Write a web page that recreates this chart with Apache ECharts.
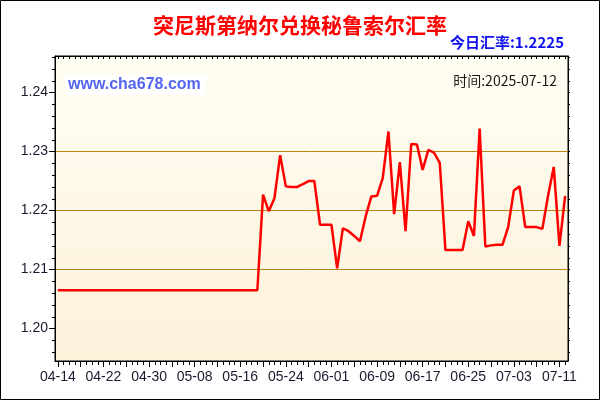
<!DOCTYPE html>
<html>
<head>
<meta charset="utf-8">
<script src="https://cdn.jsdelivr.net/npm/echarts@6/dist/echarts.min.js"></script>
<style>
html,body{margin:0;padding:0;background:#fff;}
#chart{width:600px;height:400px;}
</style>
</head>
<body>
<div id="chart"></div>
<script>
var dates = [
'04-14','04-15','04-16','04-17','04-18','04-19','04-20','04-21','04-22','04-23','04-24','04-25','04-26','04-27','04-28','04-29','04-30',
'05-01','05-02','05-03','05-04','05-05','05-06','05-07','05-08','05-09','05-10','05-11','05-12','05-13','05-14','05-15','05-16','05-17','05-18','05-19','05-20','05-21','05-22','05-23','05-24','05-25','05-26','05-27','05-28','05-29','05-30','05-31',
'06-01','06-02','06-03','06-04','06-05','06-06','06-07','06-08','06-09','06-10','06-11','06-12','06-13','06-14','06-15','06-16','06-17','06-18','06-19','06-20','06-21','06-22','06-23','06-24','06-25','06-26','06-27','06-28','06-29','06-30',
'07-01','07-02','07-03','07-04','07-05','07-06','07-07','07-08','07-09','07-10','07-11','07-12'
];
var rates = [
1.2065,1.2065,1.2065,1.2065,1.2065,1.2065,1.2065,1.2065,1.2065,1.2065,
1.2065,1.2065,1.2065,1.2065,1.2065,1.2065,1.2065,1.2065,1.2065,1.2065,
1.2065,1.2065,1.2065,1.2065,1.2065,1.2065,1.2065,1.2065,1.2065,1.2065,
1.2065,1.2065,1.2065,1.2065,1.2065,1.2065,
1.2227,1.2199,1.2221,1.2294,1.2241,1.2240,1.2240,1.2245,1.2250,1.2250,
1.2176,1.2176,1.2176,1.2102,1.2170,1.2165,1.2157,1.2148,1.2190,1.2224,
1.2225,1.2255,1.2334,1.2194,1.2282,1.2165,1.2313,1.2312,1.2269,1.2303,
1.2298,1.2281,1.2133,1.2133,1.2133,1.2133,1.2182,1.2157,1.2339,1.2139,
1.2141,1.2142,1.2142,1.2172,1.2234,1.2241,1.2172,1.2172,1.2172,1.2169,
1.2225,1.2274,1.2140,1.2225
];
var yLabels = [1.20, 1.21, 1.22, 1.23, 1.24];
var yMinorTicks = [1.196,1.198,1.200,1.202,1.204,1.206,1.208,1.210,1.212,1.214,1.216,1.218,1.220,
                   1.222,1.224,1.226,1.228,1.230,1.232,1.234,1.236,1.238,1.240,1.242,1.244,1.246];
var titleText = '突尼斯第纳尔兑换秘鲁索尔汇率';
var todayText = '今日汇率:1.2225';
var timeText = '时间:2025-07-12';
var siteText = 'www.cha678.com';

var yMin = 1.1945, yMax = 1.2462;
var chart = echarts.init(document.getElementById('chart'), null, {renderer: 'canvas'});
var black = '#000';
var labelFont = {color: '#1a1a2e', fontSize: 14, fontFamily: 'Liberation Sans, Arial, sans-serif'};

chart.setOption({
  animation: false,
  backgroundColor: '#fff',
  title: {
    text: titleText, left: 'center', top: 10,
    textStyle: {color: '#ff0000', fontSize: 21, fontWeight: 'bold', fontFamily: 'Noto Sans CJK SC'}
  },
  grid: {
    left: 55, right: 32, top: 56, bottom: 39,
    show: true, borderColor: black, borderWidth: 1,
    backgroundColor: {type: 'linear', x: 0, y: 0, x2: 0, y2: 1,
      colorStops: [{offset: 0, color: '#fffef3'}, {offset: 1, color: '#fdf1da'}]}
  },
  xAxis: [
    {type: 'category', data: dates, position: 'bottom', boundaryGap: true,
     axisLine: {show: true, lineStyle: {color: black, width: 1}},
     axisTick: {show: true, alignWithLabel: true, interval: 0, length: 4, lineStyle: {color: black}},
     axisLabel: Object.assign({interval: 7, margin: 9}, labelFont),
     splitLine: {show: false}},
    {type: 'category', data: dates, position: 'bottom', boundaryGap: true,
     axisLine: {show: false},
     axisTick: {show: true, alignWithLabel: true, interval: 3, length: 6, lineStyle: {color: black}},
     axisLabel: {show: false}, splitLine: {show: false}},
    {type: 'category', data: dates, position: 'top', boundaryGap: true,
     axisLine: {show: true, lineStyle: {color: black}},
     axisTick: {show: true, inside: true, alignWithLabel: true, interval: 0, length: 3, lineStyle: {color: black}},
     axisLabel: {show: false}, splitLine: {show: false}}
  ],
  yAxis: [
    {type: 'value', position: 'left', min: yMin, max: yMax,
     axisLine: {show: true, lineStyle: {color: black}},
     axisTick: {show: true, length: 6, customValues: yLabels, lineStyle: {color: black}},
     axisLabel: Object.assign({customValues: yLabels, margin: 7,
       formatter: function (v) { return v.toFixed(2); }}, labelFont),
     splitLine: {show: true, showMinLine: false, showMaxLine: false, lineStyle: {color: '#b8860b', width: 1}}},
    {type: 'value', position: 'left', min: yMin, max: yMax,
     axisLine: {show: false},
     axisTick: {show: true, length: 3, customValues: yMinorTicks, lineStyle: {color: black}},
     axisLabel: {show: false}, splitLine: {show: false}},
    {type: 'value', position: 'right', min: yMin, max: yMax,
     axisLine: {show: true, lineStyle: {color: black}},
     axisTick: {show: true, length: 2, customValues: yMinorTicks, lineStyle: {color: black}},
     axisLabel: {show: false}, splitLine: {show: false}}
  ],
  series: [{
    type: 'line', data: rates, xAxisIndex: 0, yAxisIndex: 0,
    symbol: 'none', smooth: false,
    lineStyle: {color: '#ff0000', width: 2.5},
    z: 5
  }],
  graphic: [
    {type: 'rect', shape: {x: 0.5, y: 0.5, width: 599, height: 399},
     style: {fill: 'none', stroke: '#000', lineWidth: 1}, z: 100, silent: true},
    {type: 'text', style: {text: todayText, x: 564, y: 42, align: 'right', verticalAlign: 'middle',
      fill: '#1010ee', font: 'bold 15px "Noto Sans CJK SC", sans-serif'}, z: 100},
    {type: 'rect', shape: {x: 66, y: 75, width: 140, height: 20}, style: {fill: '#ffffff'}, z: 90},
    {type: 'text', style: {text: siteText, x: 68, y: 85, align: 'left', verticalAlign: 'middle',
      fill: '#5566ee', font: 'bold 16px "Liberation Sans", Arial, sans-serif'}, z: 100},
    {type: 'text', style: {text: timeText, x: 557, y: 81, align: 'right', verticalAlign: 'middle',
      fill: '#1a1a1a', font: '14px "Noto Sans CJK SC", sans-serif'}, z: 100}
  ]
});
</script>
</body>
</html>
